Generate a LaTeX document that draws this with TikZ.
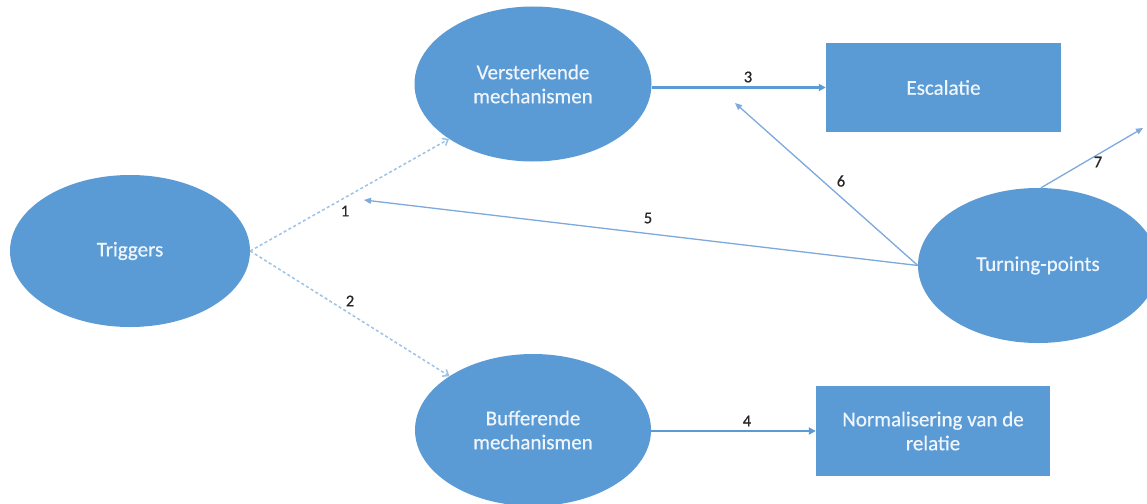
\documentclass[tikz,border=0pt]{standalone}
\usepackage{fontspec}
\setmainfont{Carlito}
\newfontfamily\nodefont[FakeBold=0.6]{Carlito}
\usetikzlibrary{shapes.geometric,arrows.meta}
\definecolor{ofblue}{HTML}{5B9BD5}
\definecolor{thinblue}{HTML}{7EA9DC}
\definecolor{dashblue}{HTML}{9DC3E6}
\definecolor{nodetext}{HTML}{EEF5FC}
\tikzset{
  ell/.style={ellipse, fill=ofblue, draw=none, text=nodetext, align=center,
    font=\nodefont\fontsize{21}{24}\selectfont, inner sep=0pt},
  boxnode/.style={rectangle, fill=ofblue, draw=none, text=nodetext, align=center,
    font=\nodefont\fontsize{21}{24}\selectfont, inner sep=0pt},
  lbl/.style={text=black!85, font=\nodefont\fontsize{16.5}{18}\selectfont, inner sep=0pt},
  dashedarrow/.style={draw=dashblue, line width=1.5pt, dash pattern=on 3pt off 2.5pt,
    -{Straight Barb[length=5pt,width=8pt]}},
  thickarrow/.style={draw=ofblue, line width=2.6pt, -{Triangle[length=7pt,width=7pt]}},
  thinarrow/.style={draw=thinblue, line width=1.3pt, -{Triangle[length=7pt,width=6pt]}},
}
\begin{document}
\begin{tikzpicture}[x=1pt,y=-1pt]
\useasboundingbox (0,0) rectangle (1147,503);
\fill[white] (0,0) rectangle (1147,503);
\clip (0,0) rectangle (1147,503);
\node[ell, minimum width=240pt, minimum height=152pt] (trig) at (130,251) {Triggers};
\node[ell, minimum width=237pt, minimum height=155pt] (vers) at (533,84) {Versterkende\\mechanismen};
\node[ell, minimum width=236pt, minimum height=152pt] (buf) at (533,430) {Bufferende\\mechanismen};
\node[ell, minimum width=240pt, minimum height=155pt] (turn) at (1038,265.5) {Turning-points};
\node[boxnode, minimum width=235pt, minimum height=89pt] (esc) at (943.5,87.5) {Escalatie};
\node[boxnode, minimum width=234pt, minimum height=90pt] (norm) at (933,431) {Normalisering van de\\relatie};
\coordinate (e5) at (364,200);
\coordinate (e6) at (735,103);
\coordinate (e7) at (1143,128);
\draw[dashedarrow] (trig.east) -- (vers.south west);
\draw[dashedarrow] (trig.east) -- (buf.north west);
\draw[thickarrow] (esc.west -| vers.east) -- (esc.west);
\draw[thickarrow] (norm.west -| buf.east) -- (norm.west);
\draw[thinarrow] (turn.west) -- (e5);
\draw[thinarrow] (turn.west) -- (e6);
\draw[thinarrow] ([xshift=3pt]turn.north) -- (e7);
\node[lbl] (l1) at (345,211) {1};
\node[lbl] (l2) at (350,301) {2};
\node[lbl] (l3) at (748,77) {3};
\node[lbl] (l4) at (747,421) {4};
\node[lbl] (l5) at (648,218) {5};
\node[lbl] (l6) at (841,181) {6};
\node[lbl] (l7) at (1098,162) {7};
\end{tikzpicture}
\end{document}
